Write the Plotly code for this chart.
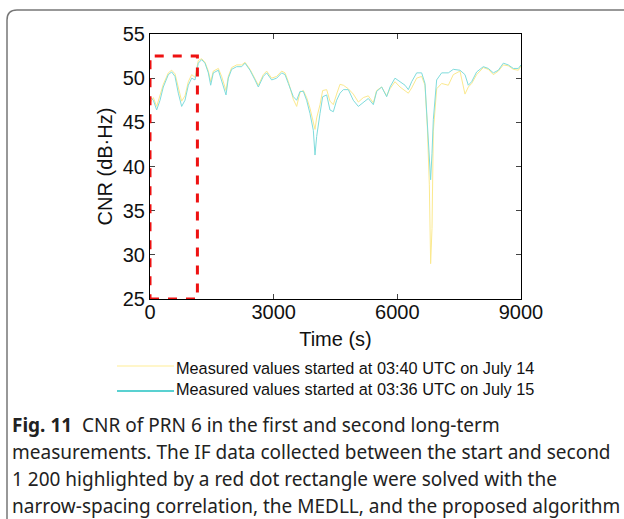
import plotly.graph_objects as go

# ---- data ----
time_s = [0, 81, 162, 243, 323, 445, 526, 606, 687, 768, 849, 930, 1011, 1092, 1172, 1253,
          1334, 1415, 1472, 1536, 1658, 1738, 1844, 1900, 1981, 2102, 2224, 2305, 2426, 2547,
          2628, 2749, 2830, 2951, 3073, 3194, 3275, 3356, 3477, 3558, 3639, 3720, 3800, 3881,
          3962, 4003, 4043, 4124, 4189, 4286, 4366, 4447, 4528, 4609, 4690, 4811, 4932, 5054,
          5175, 5296, 5418, 5498, 5620, 5741, 5822, 5943, 6065, 6186, 6267, 6348, 6469, 6590,
          6671, 6728, 6776, 6808, 6841, 6873, 6954, 7075, 7237, 7358, 7520, 7641, 7722, 7803,
          7924, 8086, 8207, 8329, 8450, 8571, 8692, 8814, 8935, 9000]

cnr_july14 = [47.2, 47.8, 46.8, 48.0, 49.3, 50.6, 50.9, 50.5, 48.8, 47.4, 48.0, 49.6, 50.4, 50.1,
              52.0, 52.2, 51.8, 50.8, 49.6, 50.8, 51.1, 50.2, 48.6, 50.2, 51.2, 51.5, 51.5, 51.8,
              51.0, 50.0, 49.2, 50.4, 50.8, 50.0, 50.2, 50.8, 50.6, 49.6, 47.6, 46.8, 48.4, 48.6,
              47.8, 46.6, 45.0, 44.2, 45.5, 47.0, 48.6, 48.7, 47.4, 47.0, 48.2, 49.3, 49.2, 48.8,
              48.2, 47.3, 47.8, 48.0, 47.2, 48.6, 49.0, 48.0, 48.8, 49.6, 49.0, 48.6, 48.3, 48.9,
              50.0, 50.2, 49.2, 44.5, 38.0, 29.0, 33.0, 44.0, 48.8, 49.4, 49.2, 50.4, 50.8, 48.2,
              49.0, 49.4, 50.4, 51.2, 51.0, 50.4, 50.8, 51.5, 51.4, 51.0, 50.9, 51.4]

cnr_july15 = [47.9, 47.5, 46.4, 47.5, 49.0, 50.4, 50.7, 50.2, 48.3, 46.8, 47.5, 49.2, 50.0, 49.8,
              51.7, 52.1, 51.7, 50.6, 49.2, 50.6, 50.9, 49.8, 48.1, 50.0, 51.0, 51.3, 51.3, 51.7,
              50.9, 49.8, 49.0, 50.2, 50.6, 49.8, 50.0, 50.6, 50.4, 49.4, 47.9, 47.5, 48.5, 48.5,
              47.5, 46.0, 44.1, 41.3, 43.4, 46.0, 47.9, 48.1, 46.4, 46.2, 47.5, 48.3, 48.7, 48.7,
              47.5, 46.8, 47.3, 47.7, 47.0, 48.5, 49.0, 47.9, 49.0, 50.0, 49.6, 49.2, 48.7, 49.6,
              50.6, 50.6, 49.4, 45.3, 41.5, 38.5, 41.5, 45.3, 49.8, 50.6, 50.6, 51.0, 50.9, 50.4,
              49.2, 49.6, 50.7, 51.3, 51.1, 50.6, 50.9, 51.7, 51.5, 51.1, 51.1, 51.5]

legend_labels = ["Measured values started at 03:40 UTC on July 14",
                 "Measured values started at 03:36 UTC on July 15"]
highlight_x = [0, 1150]
highlight_y = [25, 52.5]

x_ticks = [0, 3000, 6000, 9000]
y_ticks = [25, 30, 35, 40, 45, 50, 55]

caption_lines = [
    "<b>Fig. 11</b>  CNR of PRN 6 in the first and second long-term",
    "measurements. The IF data collected between the start and second",
    "1 200 highlighted by a red dot rectangle were solved with the",
    "narrow-spacing correlation, the MEDLL, and the proposed algorithm",
]

# ---- layout geometry ----
W, H = 624, 519
L, R, T, B = 150, 521, 34, 299


def px(x):
    return (x - L) / (R - L)


def py(y):
    return (B - y) / (B - T)


fig = go.Figure()
fig.add_trace(go.Scatter(x=time_s, y=cnr_july14, mode="lines",
                         line=dict(color="#fbe98e", width=1), showlegend=False))
fig.add_trace(go.Scatter(x=time_s, y=cnr_july15, mode="lines",
                         line=dict(color="#7fdcdc", width=1), showlegend=False))

axis_font = dict(family="Liberation Sans, Arial, sans-serif", size=20, color="#111")
fig.update_xaxes(range=[0, 9000], tickvals=x_ticks, ticks="inside", ticklen=5,
                 showline=True, linecolor="black", linewidth=1, mirror="ticks",
                 showgrid=False, zeroline=False, tickfont=axis_font,
                 ticklabelstandoff=-5,
                 title=dict(text="Time (s)", font=axis_font, standoff=9))
fig.update_yaxes(range=[25, 55], tickvals=y_ticks, ticks="inside", ticklen=5,
                 showline=True, linecolor="black", linewidth=1, mirror="ticks",
                 showgrid=False, zeroline=False, tickfont=axis_font,
                 title=dict(text="CNR (dB·Hz)", font=axis_font, standoff=4))

shapes = []
# red dashed highlight rectangle
shapes.append(dict(type="rect", xref="x", yref="y", x0=highlight_x[0], x1=highlight_x[1],
                   y0=highlight_y[0], y1=highlight_y[1],
                   line=dict(color="#ee1111", width=3, dash="dash")))
# outer rounded frame (open to right and bottom)
r = 10
x0, y0 = 7, 10
path = (f"M {px(x0)},{py(H + 5)} L {px(x0)},{py(y0 + r)} "
        f"Q {px(x0)},{py(y0)} {px(x0 + r)},{py(y0)} L {px(W + 5)},{py(y0)}")
shapes.append(dict(type="path", xref="paper", yref="paper", path=path,
                   line=dict(color="#777", width=1.5)))
# legend lines
legend_colors = ["#fff3b8", "#22c2c2"]
legend_line_y = [366, 391]
for c, yy in zip(legend_colors, legend_line_y):
    shapes.append(dict(type="line", xref="paper", yref="paper",
                       x0=px(117), x1=px(174), y0=py(yy), y1=py(yy),
                       line=dict(color=c, width=1.5)))

annotations = []
legend_text_y = [368, 389]
for lab, yy in zip(legend_labels, legend_text_y):
    annotations.append(dict(text=lab, xref="paper", yref="paper", x=px(174), y=py(yy),
                            xanchor="left", yanchor="middle", showarrow=False,
                            font=dict(family="Liberation Sans, Arial, sans-serif", size=16.3,
                                      color="#111")))
cap_y = [425, 452, 479, 506]
for line, yy in zip(caption_lines, cap_y):
    annotations.append(dict(text=line, xref="paper", yref="paper", x=px(10), y=py(yy),
                            xanchor="left", yanchor="middle", showarrow=False,
                            font=dict(family="Noto Sans, Open Sans, sans-serif", size=19,
                                      color="#222")))

fig.update_layout(width=W, height=H, margin=dict(l=L, r=W - R, t=T, b=H - B),
                  paper_bgcolor="white", plot_bgcolor="white",
                  shapes=shapes, annotations=annotations, showlegend=False)

fig.write_html("out.html")
